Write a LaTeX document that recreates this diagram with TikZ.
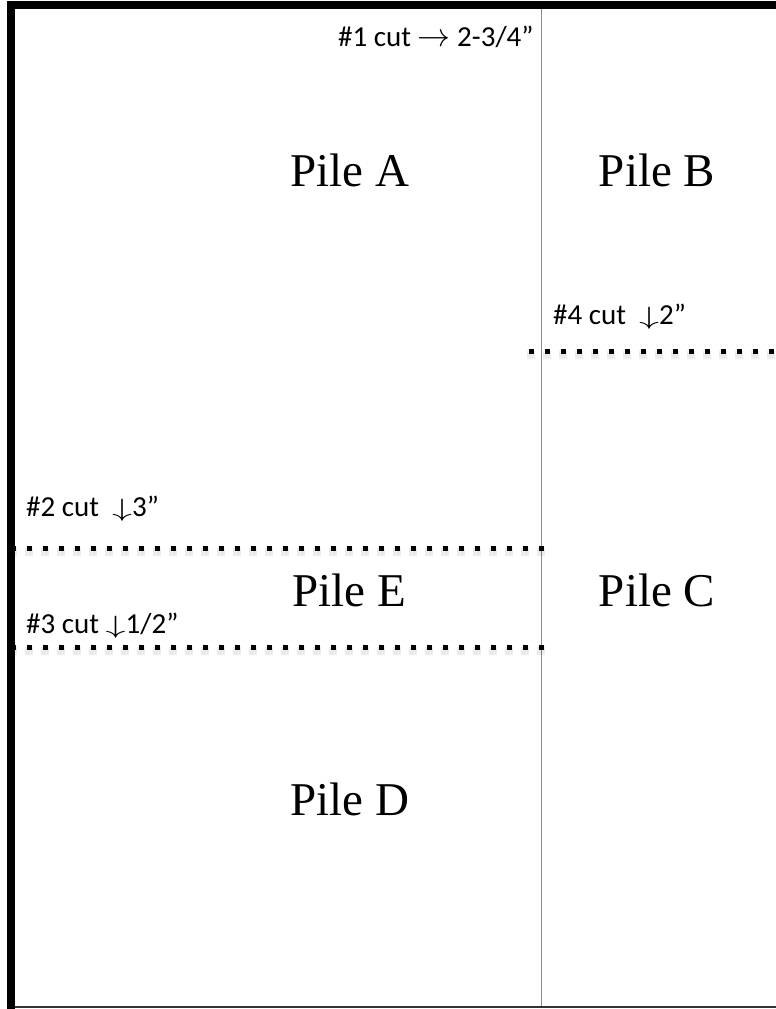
\RequirePackage{fix-cm}
\documentclass[tikz,border=0pt]{standalone}
\usepackage{graphicx}
\usepackage{fontspec}
\setmainfont{Liberation Serif}
\newfontfamily\calfont{Carlito}
\newcommand{\rarw}{{\fontsize{33}{36}\selectfont$\rightarrow$}}
\newcommand{\darw}{{\fontsize{25}{28}\selectfont\scalebox{1.6}[1]{$\downarrow$}}}
\begin{document}
\begin{tikzpicture}[x=1pt,y=-1pt,
  pile/.style={anchor=base,inner sep=0pt,font=\fontsize{47}{52}\selectfont},
  cutlbl/.style={anchor=base west,inner sep=0pt,font=\calfont\fontsize{29}{32}\selectfont},
  cutline/.style={line width=5pt,dash pattern=on 5pt off 11pt,black},
  cutshadow/.style={line width=8pt,dash pattern=on 8pt off 8pt,black,opacity=0.08},
  divider/.style={line width=1pt,black!45}]
\useasboundingbox (0,0) rectangle (776,1009);
\fill[white] (0,0) rectangle (776,1009);
% frame
\fill[black] (7,1) rectangle (776,9);
\fill[black] (7,1) rectangle (15,1009);
\fill[black!80] (15,1005.5) rectangle (776,1008);
% vertical divider
\draw[divider] (541,9) -- (541,1005.5);
% cut lines with faint shadow
\draw[cutshadow] (9,552) -- (545,552);
\draw[cutshadow] (9,650.5) -- (545,650.5);
\draw[cutshadow] (527,354.5) -- (776,354.5);
\draw[cutline] (10.5,548.7) -- (543.5,548.7);
\draw[cutline] (10.5,647) -- (543.5,647);
\draw[cutline] (528.5,351) -- (776,351);
% labels
\node[cutlbl] (c1) at (338,46.7) {\#1 cut \rarw{} 2-3/4”};
\node[cutlbl] (c4) at (553,324) {\#4 cut\ \ \darw{}2”};
\node[cutlbl] (c2) at (26,516) {\#2 cut\ \ \darw{}3”};
\node[cutlbl] (c3) at (26,633) {\#3 cut \darw{}1/2”};
\node[pile] (pa) at (350,186) {Pile A};
\node[pile] (pb) at (657,186) {Pile B};
\node[pile] (pe) at (349,606) {Pile E};
\node[pile] (pc) at (657,606) {Pile C};
\node[pile] (pd) at (350,815) {Pile D};
\end{tikzpicture}
\end{document}
